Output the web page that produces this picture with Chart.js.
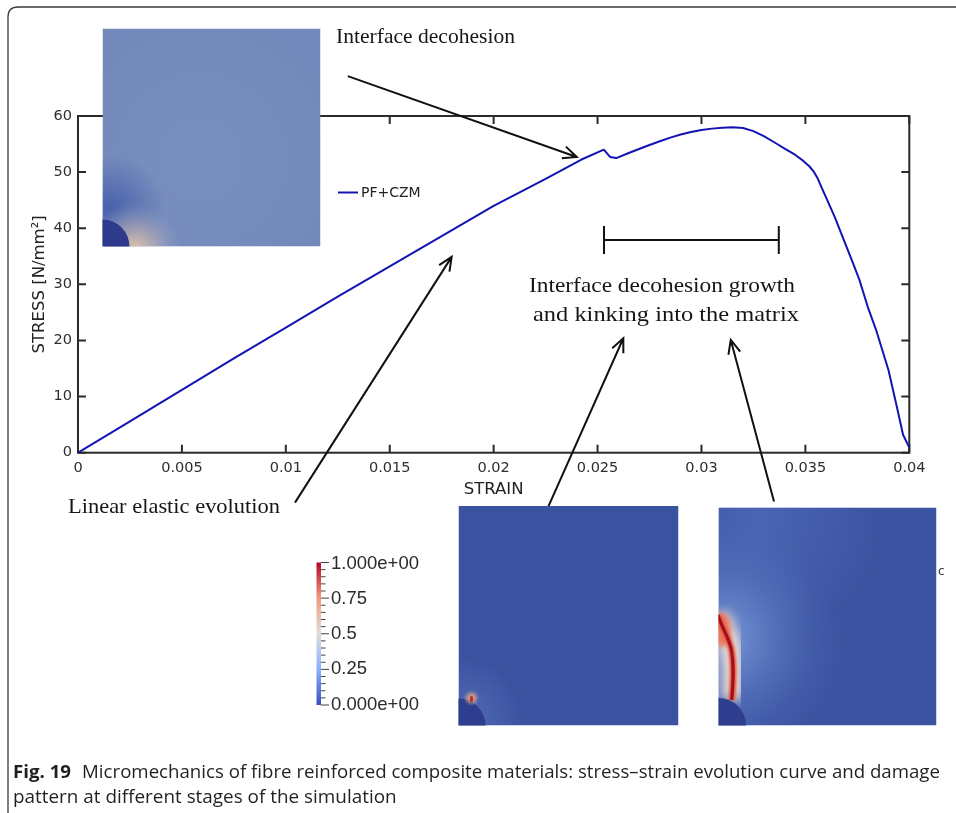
<!DOCTYPE html>
<html>
<head>
<meta charset="utf-8">
<script src="https://cdn.jsdelivr.net/npm/chart.js@4.4.1/dist/chart.umd.min.js"></script>
<style>
  html, body { margin: 0; padding: 0; background: #fff; }
  #wrap { position: relative; width: 956px; height: 813px; overflow: hidden; background: #fff; }
  #c { position: absolute; left: 0; top: 0; }
  #ov { position: absolute; left: 0; top: 0; pointer-events: none; }
</style>
</head>
<body>
<div id="wrap">
<canvas id="c" width="956" height="813"></canvas>
<svg id="ov" width="956" height="813" xmlns="http://www.w3.org/2000/svg">
  <defs>
    <clipPath id="cl1"><rect x="102.5" y="28.5" width="218" height="218"/></clipPath>
    <clipPath id="cl2"><rect x="458.5" y="506" width="220" height="219.5"/></clipPath>
    <clipPath id="cl3"><rect x="718.5" y="507.5" width="218" height="218"/></clipPath>
    <radialGradient id="g1a" cx="110" cy="210" r="55" gradientUnits="userSpaceOnUse">
      <stop offset="0" stop-color="#3f58a8" stop-opacity="0.85"/>
      <stop offset="1" stop-color="#3f58a8" stop-opacity="0"/>
    </radialGradient>
    <radialGradient id="g1b" cx="134" cy="250" r="48" gradientUnits="userSpaceOnUse">
      <stop offset="0" stop-color="#e6c8a8" stop-opacity="1"/>
      <stop offset="0.45" stop-color="#c4b4b0" stop-opacity="0.6"/>
      <stop offset="1" stop-color="#9aa6c6" stop-opacity="0"/>
    </radialGradient>
    <radialGradient id="g1c" cx="200" cy="160" r="140" gradientUnits="userSpaceOnUse">
      <stop offset="0" stop-color="#7d93c0" stop-opacity="0.6"/>
      <stop offset="1" stop-color="#7d93c0" stop-opacity="0"/>
    </radialGradient>
    <radialGradient id="g2a" cx="462" cy="718" r="60" gradientUnits="userSpaceOnUse">
      <stop offset="0" stop-color="#6f8fd6" stop-opacity="0.45"/>
      <stop offset="1" stop-color="#6f8fd6" stop-opacity="0"/>
    </radialGradient>
    <radialGradient id="g2b" cx="471.5" cy="698" r="8" gradientUnits="userSpaceOnUse">
      <stop offset="0" stop-color="#f6b47f" stop-opacity="1"/>
      <stop offset="1" stop-color="#f6b47f" stop-opacity="0"/>
    </radialGradient>
    <radialGradient id="g3a" cx="722" cy="640" r="120" gradientUnits="userSpaceOnUse">
      <stop offset="0" stop-color="#8eaee8" stop-opacity="0.8"/>
      <stop offset="0.5" stop-color="#6c8fd6" stop-opacity="0.4"/>
      <stop offset="1" stop-color="#5070c0" stop-opacity="0"/>
    </radialGradient>
    <radialGradient id="g3b" cx="760" cy="520" r="120" gradientUnits="userSpaceOnUse">
      <stop offset="0" stop-color="#5a78c4" stop-opacity="0.5"/>
      <stop offset="1" stop-color="#5a78c4" stop-opacity="0"/>
    </radialGradient>
    <filter id="blur6" x="-50%" y="-50%" width="200%" height="200%"><feGaussianBlur stdDeviation="6"/></filter>
    <filter id="blur3" x="-50%" y="-50%" width="200%" height="200%"><feGaussianBlur stdDeviation="2.5"/></filter>
    <filter id="blur1" x="-50%" y="-50%" width="200%" height="200%"><feGaussianBlur stdDeviation="0.8"/></filter>
    <linearGradient id="cbar" x1="0" y1="0" x2="0" y2="1">
      <stop offset="0" stop-color="#b40426"/>
      <stop offset="0.25" stop-color="#f49a7b"/>
      <stop offset="0.5" stop-color="#dddddd"/>
      <stop offset="0.75" stop-color="#8db0fe"/>
      <stop offset="1" stop-color="#3b4cc0"/>
    </linearGradient>
  </defs>

  <!-- outer figure frame -->
  <path d="M 8 813 L 8 17 Q 8 7 18 7 L 956 7" fill="none" stroke="#3a3a3a" stroke-width="1.3"/>

  <!-- inset 1 -->
  <g clip-path="url(#cl1)">
    <rect x="102.5" y="28.5" width="218" height="218" fill="#7389bb"/>
    <rect x="102.5" y="28.5" width="218" height="218" fill="url(#g1c)"/>
    <rect x="102.5" y="28.5" width="218" height="218" fill="url(#g1a)"/>
    <rect x="102.5" y="28.5" width="218" height="218" fill="url(#g1b)"/>
    <circle cx="102.5" cy="246.5" r="27" fill="#2e3b8c"/>
  </g>

  <!-- inset 2 -->
  <g clip-path="url(#cl2)">
    <rect x="458.5" y="506" width="220" height="219.5" fill="#3b52a0"/>
    <rect x="458.5" y="506" width="220" height="219.5" fill="url(#g2a)"/>
    <circle cx="458.5" cy="725.5" r="27" fill="#2f3d8f"/>
    <circle cx="471.5" cy="698" r="8" fill="url(#g2b)"/>
    <ellipse cx="471.5" cy="699" rx="1.6" ry="3.2" fill="#c0302a"/>
  </g>

  <!-- inset 3 -->
  <g clip-path="url(#cl3)">
    <rect x="718.5" y="507.5" width="218" height="218" fill="#3c53a1"/>
    <rect x="718.5" y="507.5" width="218" height="218" fill="url(#g3b)"/>
    <rect x="718.5" y="507.5" width="218" height="218" fill="url(#g3a)"/>
    <path d="M 731.7 700 C 733.5 680, 734 662, 731 648 C 728 636, 722 628, 718 615" fill="none" stroke="#f4e2d6" stroke-width="22" filter="url(#blur6)" opacity="0.95"/>
    <ellipse cx="722" cy="630" rx="9" ry="17" fill="#e9795a" filter="url(#blur3)"/>
    <path d="M 731.7 700 C 733.5 680, 734 662, 731 648 C 728 636, 722 628, 718 615" fill="none" stroke="#e35b45" stroke-width="7" filter="url(#blur1)"/>
    <path d="M 731.7 700 C 733.5 680, 734 662, 731 648 C 728 636, 722 628, 718 615" fill="none" stroke="#a30f1c" stroke-width="3.2"/>
    <circle cx="718.5" cy="725.5" r="27.5" fill="#2f3d8f"/>
  </g>

  <!-- colorbar -->
  <rect x="316.5" y="562.5" width="4.5" height="142.5" fill="url(#cbar)"/>
  <g id="cbticks" stroke="#444" stroke-width="1"></g>
  <g font-family="Liberation Sans, Arial, sans-serif" font-size="18.5" fill="#2a2a2a" dominant-baseline="central">
    <text x="331" y="562">1.000e+00</text>
    <text x="331" y="597">0.75</text>
    <text x="331" y="632">0.5</text>
    <text x="331" y="667">0.25</text>
    <text x="331" y="703">0.000e+00</text>
  </g>
  <text x="938" y="575" font-family="DejaVu Sans" font-size="12" fill="#333">c</text>

  <!-- caption -->
  <text id="cap1" x="13" y="778" font-family="Open Sans, sans-serif" font-size="18.5" fill="#231f20"><tspan font-weight="bold">Fig. 19</tspan><tspan dx="11">Micromechanics of fibre reinforced composite materials: stress–strain evolution curve and damage</tspan></text>
  <text id="cap2" x="13" y="803" font-family="Open Sans, sans-serif" font-size="18.5" fill="#231f20">pattern at different stages of the simulation</text>
</svg>
</div>

<script>
// ---------------- data ----------------
const seriesName = 'PF+CZM';
const strain = [0, 0.0025, 0.005, 0.0075, 0.01, 0.0125, 0.015, 0.0175, 0.02, 0.0225, 0.0242, 0.0253,
                0.0256, 0.0259, 0.0265, 0.0274, 0.0280, 0.0285, 0.0290, 0.0295, 0.0300, 0.0305, 0.0310,
                0.0315, 0.0320, 0.0325, 0.0330, 0.0336, 0.0340, 0.0345, 0.0349, 0.0352, 0.0354, 0.0356,
                0.0358, 0.0364, 0.0373, 0.0376, 0.0380, 0.0384, 0.0390, 0.0394, 0.0397, 0.0400];
const stress = [0, 5.6, 11.2, 16.8, 22.3, 27.8, 33.2, 38.6, 44.0, 48.8, 52.2, 54.0,
                52.7, 52.5, 53.4, 54.7, 55.5, 56.15, 56.7, 57.15, 57.5, 57.75, 57.92,
                57.98, 57.85, 57.3, 56.4, 55.1, 54.2, 53.1, 52.0, 51.0, 50.1, 48.8,
                47.1, 42.1, 33.7, 30.8, 26.0, 21.9, 14.7, 8.2, 3.2, 0.9];
const xTickValues = [0, 0.005, 0.01, 0.015, 0.02, 0.025, 0.03, 0.035, 0.04];
const xTickLabels = ['0', '0.005', '0.01', '0.015', '0.02', '0.025', '0.03', '0.035', '0.04'];
const yTickValues = [0, 10, 20, 30, 40, 50, 60];
const yTickLabels = ['0', '10', '20', '30', '40', '50', '60'];

// annotation geometry (in data units: strain, stress)
const arrows = [
  { from: [0.01298, 67.1], to: [0.02400, 52.7] },
  { from: [0.01044, -8.9], to: [0.01798, 34.9] },
  { from: [0.02263, -9.6], to: [0.02624, 20.4] },
  { from: [0.03349, -8.7], to: [0.03141, 20.1] }
];
const bracket = { x0: 0.02531, x1: 0.03372, y: 37.9, h: 2.5 };
const notes = [
  { text: 'Interface decohesion', x: 336, y: 37, w: 179, align: 'left' },
  { text: 'Linear elastic evolution', x: 68, y: 507, w: 212, align: 'left' },
  { text: 'Interface decohesion growth', x: 662, y: 286, w: 266, align: 'center' },
  { text: 'and kinking into the matrix', x: 666, y: 315, w: 266, align: 'center' }
];

// colorbar ticks (decoration)
(function () {
  const g = document.getElementById('cbticks');
  const y0 = 562.5, y1 = 705, n = 20;
  for (let i = 0; i <= n; i++) {
    const y = y0 + (y1 - y0) * i / n;
    const major = i % 5 === 0;
    const l = document.createElementNS('http://www.w3.org/2000/svg', 'line');
    l.setAttribute('x1', 321); l.setAttribute('x2', major ? 329 : 325.5);
    l.setAttribute('y1', y); l.setAttribute('y2', y);
    g.appendChild(l);
  }
})();

// caption: same horizontal compression for both lines, line 1 fills 927px
(function () {
  const c1 = document.getElementById('cap1'), c2 = document.getElementById('cap2');
  const n1 = c1.getComputedTextLength(), n2 = c2.getComputedTextLength();
  const f = 927 / n1;
  c1.setAttribute('textLength', 927); c1.setAttribute('lengthAdjust', 'spacingAndGlyphs');
  c2.setAttribute('textLength', (n2 * f).toFixed(1)); c2.setAttribute('lengthAdjust', 'spacingAndGlyphs');
})();

const LINE_COLOR = '#1414b4';
const AX_COLOR = '#2b2b2b';

const framePlugin = {
  id: 'frame',
  beforeDatasetsDraw(chart) {
    const { ctx, chartArea: a, scales: { x, y } } = chart;
    ctx.save();
    ctx.strokeStyle = AX_COLOR;
    ctx.lineWidth = 2;
    ctx.strokeRect(a.left, a.top, a.right - a.left, a.bottom - a.top);
    const tl = 8;
    ctx.beginPath();
    x.ticks.forEach(t => {
      const px = x.getPixelForValue(t.value);
      ctx.moveTo(px, a.bottom); ctx.lineTo(px, a.bottom - tl);
      ctx.moveTo(px, a.top); ctx.lineTo(px, a.top + tl);
    });
    y.ticks.forEach(t => {
      const py = y.getPixelForValue(t.value);
      ctx.moveTo(a.left, py); ctx.lineTo(a.left + tl, py);
      ctx.moveTo(a.right, py); ctx.lineTo(a.right - tl, py);
    });
    ctx.stroke();
    ctx.restore();
  }
};

function drawArrow(ctx, x0, y0, x1, y1) {
  ctx.beginPath();
  ctx.moveTo(x0, y0); ctx.lineTo(x1, y1);
  const ang = Math.atan2(y1 - y0, x1 - x0);
  const L = 15, spread = 0.42;
  ctx.moveTo(x1 - L * Math.cos(ang - spread), y1 - L * Math.sin(ang - spread));
  ctx.lineTo(x1, y1);
  ctx.lineTo(x1 - L * Math.cos(ang + spread), y1 - L * Math.sin(ang + spread));
  ctx.stroke();
}

const annPlugin = {
  id: 'ann',
  afterDraw(chart) {
    const { ctx, scales: { x, y } } = chart;
    ctx.save();
    ctx.strokeStyle = '#111';
    ctx.lineWidth = 2;
    ctx.lineCap = 'butt';
    ctx.lineJoin = 'miter';
    arrows.forEach(a => {
      drawArrow(ctx, x.getPixelForValue(a.from[0]), y.getPixelForValue(a.from[1]),
                     x.getPixelForValue(a.to[0]), y.getPixelForValue(a.to[1]));
    });
    // bracket
    const bx0 = x.getPixelForValue(bracket.x0), bx1 = x.getPixelForValue(bracket.x1);
    const by = y.getPixelForValue(bracket.y);
    const bt = y.getPixelForValue(bracket.y + bracket.h), bb = y.getPixelForValue(bracket.y - bracket.h);
    ctx.beginPath();
    ctx.moveTo(bx0, by); ctx.lineTo(bx1, by);
    ctx.moveTo(bx0, bt); ctx.lineTo(bx0, bb);
    ctx.moveTo(bx1, bt); ctx.lineTo(bx1, bb);
    ctx.stroke();
    // texts
    ctx.fillStyle = '#161616';
    ctx.font = '21px "Liberation Serif", serif';
    ctx.textBaseline = 'middle';
    notes.forEach(n => {
      const w = ctx.measureText(n.text).width;
      const s = n.w / w;
      ctx.save();
      const left = n.align === 'center' ? n.x - n.w / 2 : n.x;
      ctx.translate(left, n.y);
      ctx.scale(s, 1);
      ctx.textAlign = 'left';
      ctx.fillText(n.text, 0, 0);
      ctx.restore();
    });
    // legend
    const ds = chart.data.datasets[0];
    ctx.strokeStyle = ds.borderColor;
    ctx.lineWidth = 2;
    ctx.beginPath(); ctx.moveTo(338, 192.5); ctx.lineTo(358, 192.5); ctx.stroke();
    ctx.fillStyle = '#222';
    ctx.font = '14px "DejaVu Sans", sans-serif';
    ctx.textAlign = 'left';
    ctx.fillText(ds.label, 361, 193);
    ctx.restore();
  }
};

const tickFont = { family: 'DejaVu Sans', size: 14.5 };
const titleFont = { family: 'DejaVu Sans', size: 16.5 };

new Chart(document.getElementById('c'), {
  type: 'line',
  data: {
    datasets: [{
      label: seriesName,
      data: strain.map((s, i) => ({ x: s, y: stress[i] })),
      borderColor: LINE_COLOR,
      borderWidth: 2,
      pointRadius: 0,
      tension: 0,
      borderJoinStyle: 'round',
      fill: false
    }]
  },
  options: {
    responsive: false,
    animation: false,
    layout: { padding: { top: 116, right: 46.7, bottom: 300.3, left: 0 } },
    plugins: { legend: { display: false }, tooltip: { enabled: false } },
    scales: {
      x: {
        type: 'linear', min: 0, max: 0.04,
        afterBuildTicks: s => { s.ticks = xTickValues.map(v => ({ value: v })); },
        afterFit: s => { s.height = 60; },
        grid: { display: false, drawTicks: false },
        border: { display: false },
        ticks: { padding: 7, color: '#2e2e2e', font: tickFont, maxRotation: 0, autoSkip: false,
                 callback: (v, i) => xTickLabels[i] },
        title: { display: true, text: 'STRAIN', color: '#222', font: titleFont, padding: { top: 0, bottom: 12.8 } }
      },
      y: {
        type: 'linear', min: 0, max: 60,
        afterBuildTicks: s => { s.ticks = yTickValues.map(v => ({ value: v })); },
        afterFit: s => { s.width = 78; },
        grid: { display: false, drawTicks: false },
        border: { display: false },
        ticks: { padding: 6, color: '#2e2e2e', font: tickFont, autoSkip: false,
                 callback: (v, i) => yTickLabels[i] },
        title: { display: true, text: 'STRESS [N/mm²]', color: '#222', font: titleFont, padding: { top: 30, bottom: 0 } }
      }
    }
  },
  plugins: [framePlugin, annPlugin]
});
</script>
</body>
</html>
